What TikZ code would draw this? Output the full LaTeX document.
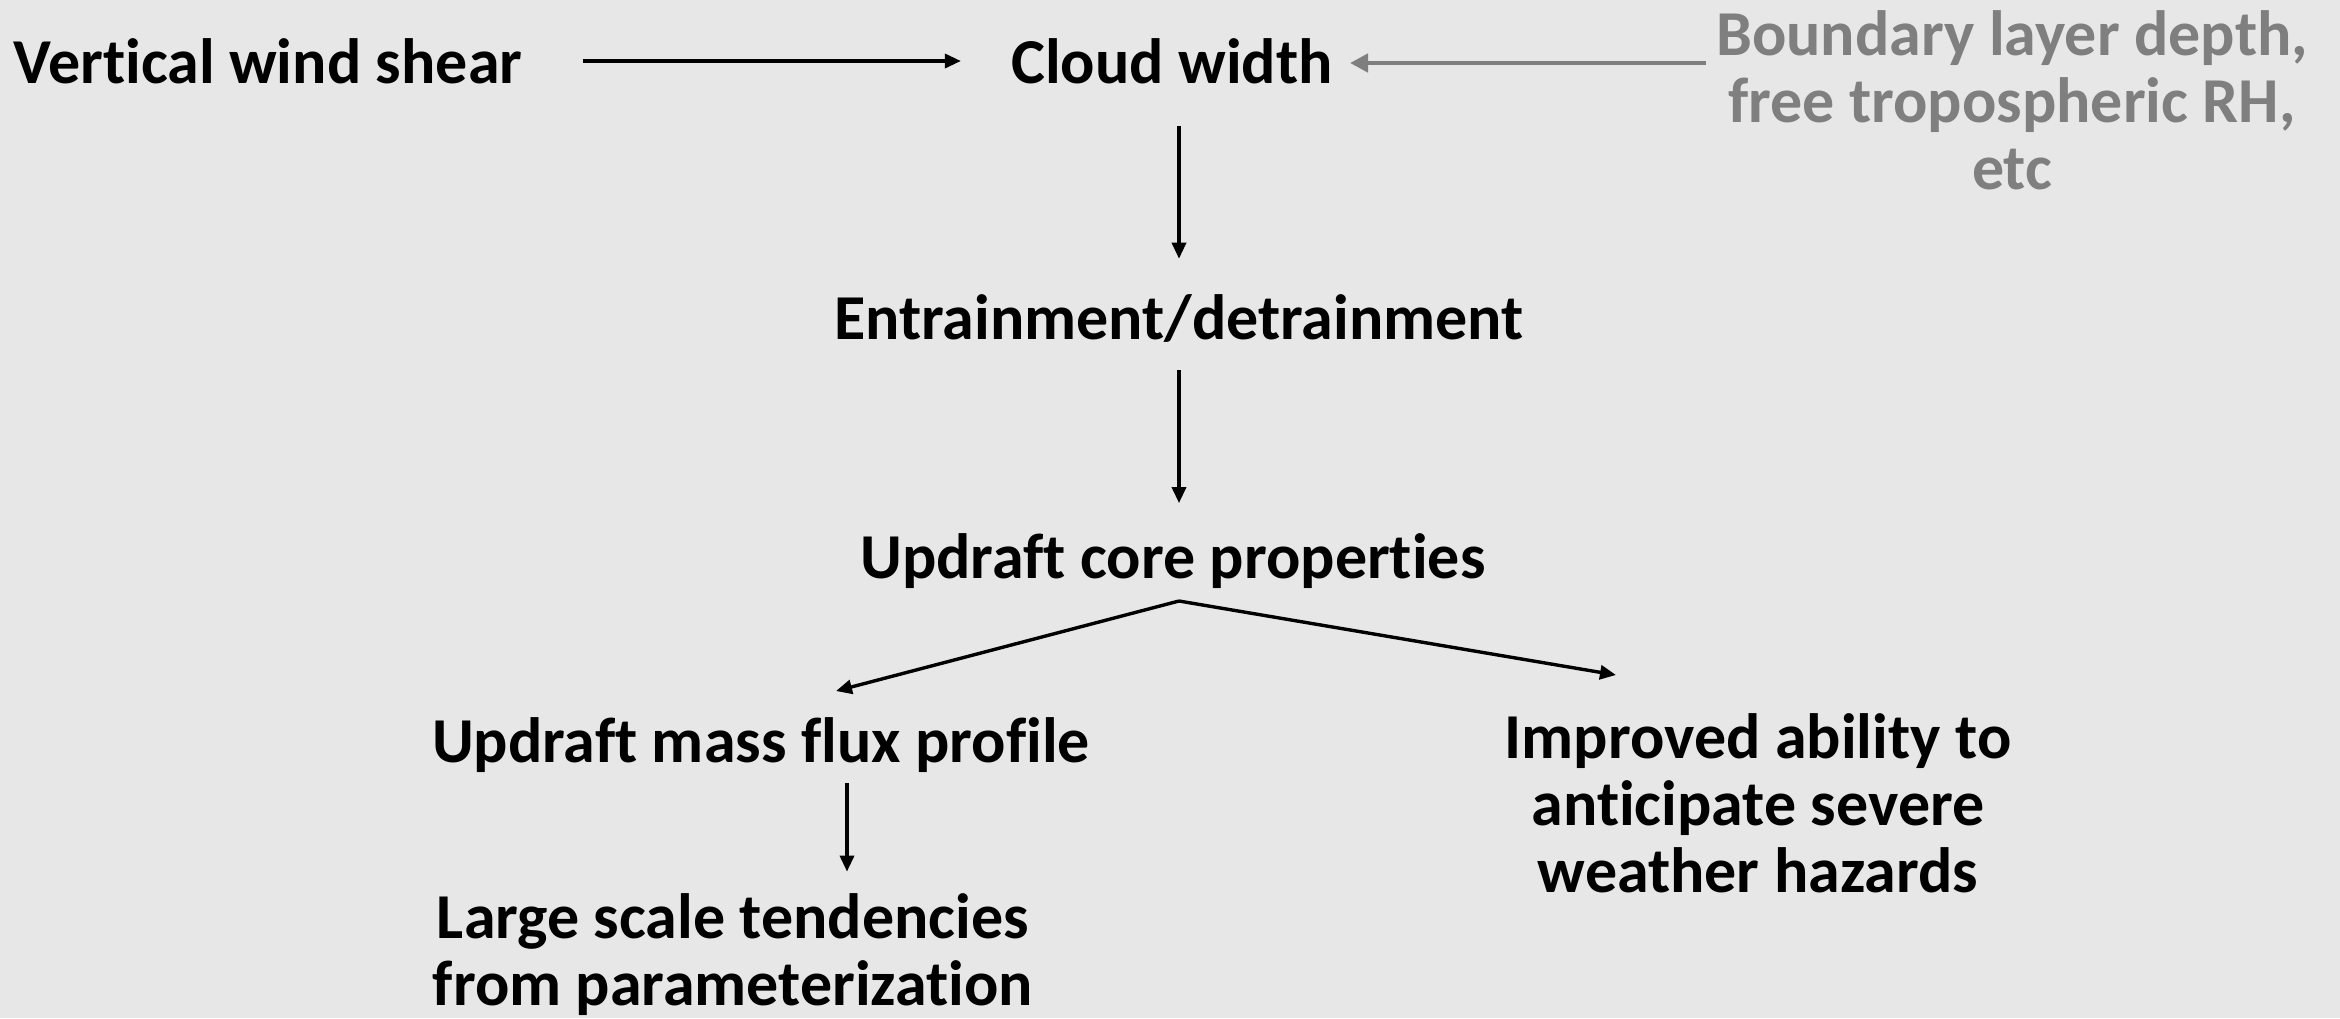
\documentclass[tikz,border=0pt]{standalone}
\usepackage{fontspec}
\setmainfont{Carlito}[Ligatures={NoCommon}]
\usetikzlibrary{arrows.meta}
\definecolor{bg}{HTML}{E7E7E7}
\definecolor{greytxt}{HTML}{7F7F7F}
\begin{document}
\begin{tikzpicture}[x=0.5pt,y=-0.5pt,
  lbl/.style={font=\bfseries\fontsize{32pt}{33.5pt}\selectfont, inner sep=0pt, align=center, text=black},
  arr/.style={draw=black, line width=1.7pt, -{Stealth[length=8pt,width=7pt,inset=0pt]}},
  garr/.style={draw=greytxt, line width=2.2pt, -{Stealth[length=9pt,width=9pt,inset=0pt]}}]
\fill[bg] (0,0) rectangle (2340,1018);
\node[lbl] (vws) at (268,61) {Vertical wind shear};
\node[lbl] (cw) at (1172,61) {Cloud width};
\node[lbl, text=greytxt] (bl) at (2012,100) {Boundary layer depth,\\free tropospheric RH,\\etc};
\node[lbl] (ed) at (1179,318) {Entrainment/detrainment};
\node[lbl] (ucp) at (1173,561) {Updraft core properties};
\node[lbl] (umf) at (761,745) {Updraft mass flux profile};
\node[lbl] (lst) at (733,955) {Large scale tendencies\\from parameterization};
\node[lbl] (iah) at (1758,803) {Improved ability to\\anticipate severe\\weather hazards};
\coordinate (apex) at (1179,601);
\coordinate (lend) at (836,691);
\coordinate (rend) at (1616,675);
\coordinate (gstart) at (1706,63);
\coordinate (gend) at (1350,63);
\draw[arr] ([xshift=30pt]vws.east) -- ([xshift=-25pt]cw.west);
\draw[garr] (gstart) -- (gend);
\draw[arr] ([yshift=-21pt]ed.north |- cw.south) -- ([yshift=17.5pt]ed.north);
\draw[arr] ([yshift=-13.75pt]ed.south) -- ([yshift=15pt]ed.south |- ucp.north);
\draw[arr] (apex) -- (lend);
\draw[arr] (apex) -- (rend);
\draw[arr] ([xshift=43pt,yshift=-5pt]umf.south) -- ([xshift=57pt,yshift=11pt]lst.north);
\end{tikzpicture}
\end{document}
